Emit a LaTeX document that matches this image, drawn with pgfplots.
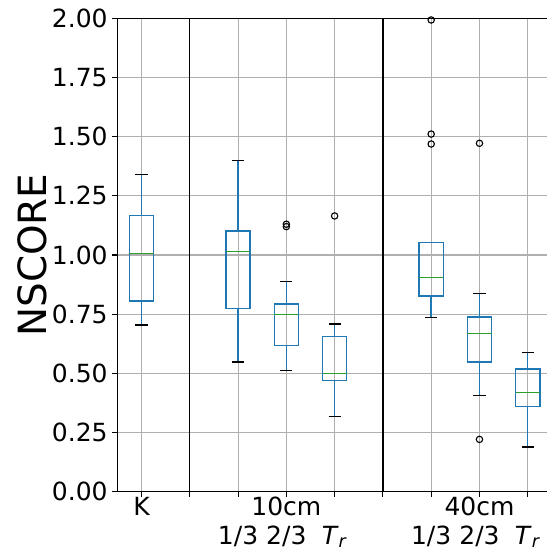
\documentclass[border=0pt]{standalone}
\usepackage{pgfplots}
\pgfplotsset{compat=1.18}
\usepgfplotslibrary{statistics}
\usepackage{fontspec}
\setmainfont{DejaVu Sans}
\definecolor{mplblue}{HTML}{1F77B4}
\definecolor{mplgreen}{HTML}{2CA02C}
\definecolor{gridgray}{HTML}{B0B0B0}
\pgfplotsset{
  mybox/.style={
    mplblue, line width=1pt,
    mark=o, mark size=2.3pt,
    mark options={draw=black, fill=none, line width=0.8pt, solid},
    boxplot/draw direction=y,
    boxplot/box extend=0.5,
    boxplot/whisker extend=0.25,
    boxplot/every box/.style={draw=mplblue, line width=1pt},
    boxplot/every median/.style={draw=mplgreen, line width=1pt},
    boxplot/every whisker/.style={draw=mplblue, line width=1pt},
    boxplot/draw/lower whisker/.code={%
      \draw[/pgfplots/boxplot/every whisker/.try]
        (boxplot box cs:\pgfplotsboxplotvalue{lower quartile},0.5) --
        (boxplot box cs:\pgfplotsboxplotvalue{lower whisker},0.5);
      \draw[black, line width=1pt]
        (boxplot whisker cs:\pgfplotsboxplotvalue{lower whisker},0) --
        (boxplot whisker cs:\pgfplotsboxplotvalue{lower whisker},1);
    },
    boxplot/draw/upper whisker/.code={%
      \draw[/pgfplots/boxplot/every whisker/.try]
        (boxplot box cs:\pgfplotsboxplotvalue{upper quartile},0.5) --
        (boxplot box cs:\pgfplotsboxplotvalue{upper whisker},0.5);
      \draw[black, line width=1pt]
        (boxplot whisker cs:\pgfplotsboxplotvalue{upper whisker},0) --
        (boxplot whisker cs:\pgfplotsboxplotvalue{upper whisker},1);
    },
  }
}
\newcommand{\Tr}{\textit{T}\textsubscript{\textit{r}}}
\begin{document}
\begin{tikzpicture}
\begin{axis}[
  at={(0,0)}, anchor=south west,
  scale only axis, width=309.4pt, height=340.8pt,
  xmin=0.5, xmax=9.4, ymin=0, ymax=2,
  clip=false,
  separate axis lines,
  axis x line*=box, axis y line*=left,
  axis line style={black, line width=0.8pt},
  xtick={1,2,3,4,5,6,7,8,9},
  xticklabels={{\strut K},{},{\strut\\1/3},{\strut 10cm\\2/3},{\strut\\\Tr},{},{\strut\\1/3},{\strut 40cm\\2/3},{\strut\\\Tr}},
  xticklabel style={align=center, font=\fontsize{18}{20.5}\selectfont, yshift=4.2pt},
  ytick={0,0.25,0.5,0.75,1,1.25,1.5,1.75,2},
  yticklabel style={font=\fontsize{18}{21.6}\selectfont, /pgf/number format/.cd, fixed, fixed zerofill, precision=2, assume math mode=true},
  tick pos=left,
  tick align=outside,
  major tick length=3.5pt,
  every tick/.style={black, line width=0.8pt},
  grid=major,
  major grid style={gridgray, line width=0.8pt},
  ylabel={NSCORE},
  ylabel shift=-3pt,
  ylabel style={font=\fontsize{28}{33}\selectfont},
]
% K
\addplot[mybox, boxplot prepared={draw position=1, lower whisker=0.704, lower quartile=0.806, median=1.007, upper quartile=1.166, upper whisker=1.339}] coordinates {};
% 10cm 1/3
\addplot[mybox, boxplot prepared={draw position=3, lower whisker=0.548, lower quartile=0.775, median=1.016, upper quartile=1.101, upper whisker=1.398}] coordinates {};
% 10cm 2/3
\addplot[mybox, boxplot prepared={draw position=4, lower whisker=0.513, lower quartile=0.617, median=0.749, upper quartile=0.793, upper whisker=0.887}] table[row sep=\\, y index=0] {1.12\\1.13\\};
% 10cm Tr
\addplot[mybox, boxplot prepared={draw position=5, lower whisker=0.318, lower quartile=0.469, median=0.500, upper quartile=0.656, upper whisker=0.708}] table[row sep=\\, y index=0] {1.165\\};
% 40cm 1/3
\addplot[mybox, boxplot prepared={draw position=7, lower whisker=0.737, lower quartile=0.827, median=0.904, upper quartile=1.052, upper whisker=1.052}] table[row sep=\\, y index=0] {1.993\\1.511\\1.469\\};
% 40cm 2/3
\addplot[mybox, boxplot prepared={draw position=8, lower whisker=0.407, lower quartile=0.548, median=0.668, upper quartile=0.738, upper whisker=0.838}] table[row sep=\\, y index=0] {1.472\\0.221\\};
% 40cm Tr
\addplot[mybox, boxplot prepared={draw position=9, lower whisker=0.189, lower quartile=0.361, median=0.418, upper quartile=0.518, upper whisker=0.587}] coordinates {};
% separators
\addplot[black, line width=1pt, mark=none] coordinates {(2,0) (2,2)};
\addplot[black, line width=1pt, mark=none] coordinates {(6,0) (6,2)};
\end{axis}
\pgfresetboundingbox
\path (-84.5pt,-42pt) rectangle (309.4pt,354.0pt);
\end{tikzpicture}
\end{document}
